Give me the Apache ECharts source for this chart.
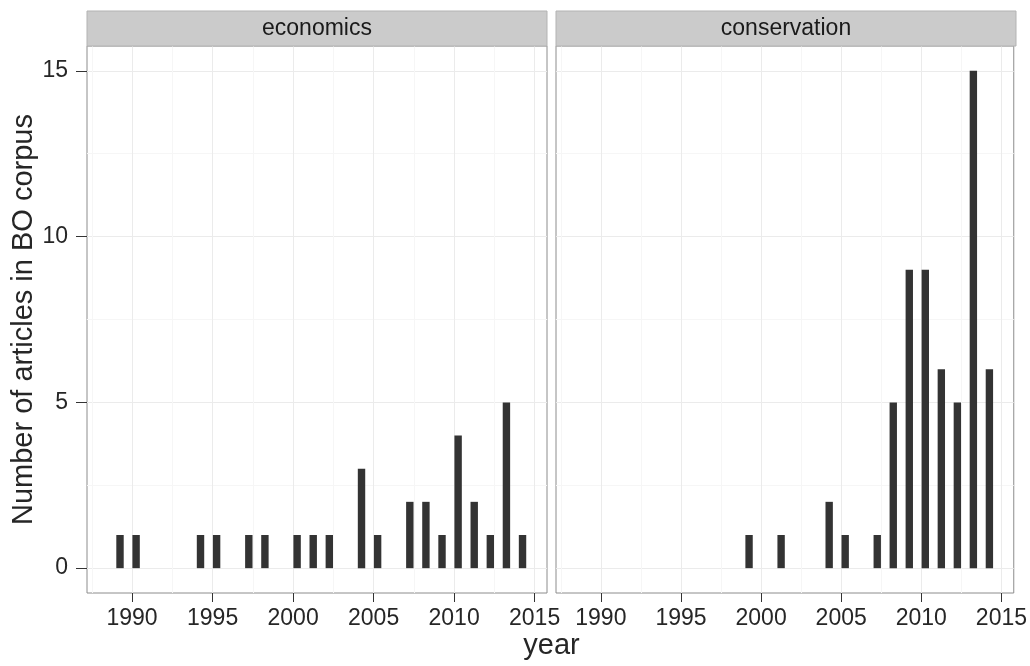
<!DOCTYPE html>
<html>
<head>
<meta charset="utf-8">
<script src="https://cdn.jsdelivr.net/npm/echarts@6/dist/echarts.min.js"></script>
<style>
  html, body { margin: 0; padding: 0; background: #ffffff; }
  #chart { width: 1030px; height: 666px; }
</style>
</head>
<body>
<div id="chart"></div>
<script>
// Articles per year in the BO corpus, faceted by topic
const panelNames = ['economics', 'conservation'];

const economicsYears  = [1989, 1990, 1994, 1995, 1997, 1998, 2000, 2001, 2002, 2004, 2005, 2007, 2008, 2009, 2010, 2011, 2012, 2013, 2014];
const economicsCounts = [1, 1, 1, 1, 1, 1, 1, 1, 1, 3, 1, 2, 2, 1, 4, 2, 1, 5, 1];

const conservationYears  = [1999, 2001, 2004, 2005, 2007, 2008, 2009, 2010, 2011, 2012, 2013, 2014];
const conservationCounts = [1, 1, 2, 1, 1, 5, 9, 9, 6, 5, 15, 6];

const yearTicks       = [1990, 1995, 2000, 2005, 2010, 2015];
const yearMinorTicks  = [1987.5, 1992.5, 1997.5, 2002.5, 2007.5, 2012.5];
const countTicks      = [0, 5, 10, 15];
const countMinorTicks = [2.5, 7.5, 12.5];

const xTitle = 'year';
const yTitle = 'Number of articles in BO corpus';

// ---- styling / layout ----
const FONT = "'Liberation Sans', Arial, Helvetica, sans-serif";
const YEAR_RANGE  = [1987.2, 2015.77];
const COUNT_RANGE = [-0.75, 15.75];
const BAR_CENTER = 0.25;   // bars sit a quarter year after the year start
const BAR_HALF   = 0.23;   // half bar width, in years
const BAR_COLOR  = '#333333';
const MAJOR_GRID = '#ebebeb';
const MINOR_GRID = '#f6f6f6';
const BORDER     = '#8c8c8c';
const TEXT       = '#262626';

const panels = [
  { left: 87,  top: 46, width: 460, height: 547 },
  { left: 556, top: 46, width: 460, height: 547 }
];
const STRIP_TOP = 11;

const series = [
  { years: economicsYears, counts: economicsCounts },
  { years: conservationYears, counts: conservationCounts }
];

const grids = [], xAxes = [], yAxes = [], seriesList = [], graphics = [];

panels.forEach((p, i) => {
  grids.push({
    left: p.left, top: p.top, width: p.width, height: p.height,
    show: true, borderColor: BORDER, borderWidth: 1, backgroundColor: '#ffffff',
    containLabel: false
  });

  // major x axis with labels and ticks
  xAxes.push({
    type: 'value', gridIndex: i, min: YEAR_RANGE[0], max: YEAR_RANGE[1], position: 'bottom',
    axisLine: { show: false, onZero: false },
    axisTick: { show: true, length: 9, customValues: yearTicks, lineStyle: { color: '#333333', width: 1 } },
    axisLabel: { show: true, customValues: yearTicks, margin: 14, color: TEXT, fontSize: 23, fontFamily: FONT,
                 formatter: v => String(v) },
    splitLine: { show: true, lineStyle: { color: MAJOR_GRID, width: 1 } }
  });
  // minor x grid lines
  xAxes.push({
    type: 'value', gridIndex: i, min: YEAR_RANGE[0], max: YEAR_RANGE[1], position: 'top',
    axisLine: { show: false, onZero: false },
    axisTick: { show: false, customValues: yearMinorTicks },
    axisLabel: { show: false, customValues: yearMinorTicks },
    splitLine: { show: true, lineStyle: { color: MINOR_GRID, width: 1 } }
  });

  yAxes.push({
    type: 'value', gridIndex: i, min: COUNT_RANGE[0], max: COUNT_RANGE[1], position: 'left',
    axisLine: { show: false, onZero: false },
    axisTick: { show: i === 0, length: 11, customValues: countTicks, lineStyle: { color: '#333333', width: 1 } },
    axisLabel: { show: i === 0, customValues: countTicks, margin: 19, color: TEXT, fontSize: 23, fontFamily: FONT },
    splitLine: { show: true, lineStyle: { color: MAJOR_GRID, width: 1 } },
    name: i === 0 ? yTitle : '',
    nameLocation: 'middle', nameRotate: 90, nameGap: 47,
    nameTextStyle: { color: TEXT, fontSize: 29, fontFamily: FONT }
  });
  yAxes.push({
    type: 'value', gridIndex: i, min: COUNT_RANGE[0], max: COUNT_RANGE[1], position: 'right',
    axisLine: { show: false, onZero: false },
    axisTick: { show: false, customValues: countMinorTicks },
    axisLabel: { show: false, customValues: countMinorTicks },
    splitLine: { show: true, lineStyle: { color: MINOR_GRID, width: 1 } }
  });

  const d = series[i];
  seriesList.push({
    type: 'custom',
    xAxisIndex: i * 2, yAxisIndex: i * 2,
    data: d.years.map((y, k) => [y, d.counts[k]]),
    encode: { x: 0, y: 1 },
    clip: true,
    renderItem: (params, api) => {
      const x = api.value(0), v = api.value(1);
      const a = api.coord([x + BAR_CENTER - BAR_HALF, v]);
      const b = api.coord([x + BAR_CENTER + BAR_HALF, 0]);
      return {
        type: 'rect',
        shape: { x: a[0], y: a[1], width: b[0] - a[0], height: b[1] - a[1] },
        style: { fill: BAR_COLOR }
      };
    },
    z: 5
  });

  // facet strip
  graphics.push({
    type: 'rect',
    shape: { x: p.left, y: STRIP_TOP, width: p.width, height: p.top - STRIP_TOP },
    style: { fill: '#cbcbcb', stroke: '#b3b3b3', lineWidth: 1 },
    z: 10
  });
  graphics.push({
    type: 'text',
    x: p.left + p.width / 2, y: (STRIP_TOP + p.top) / 2,
    style: { text: panelNames[i], fill: '#1a1a1a', font: '23px ' + FONT, align: 'center', verticalAlign: 'middle' },
    z: 11
  });
});

// shared x title across both panels
graphics.push({
  type: 'text',
  x: (panels[0].left + panels[1].left + panels[1].width) / 2, y: 646,
  style: { text: xTitle, fill: TEXT, font: '29px ' + FONT, align: 'center', verticalAlign: 'middle' },
  z: 11
});

const chart = echarts.init(document.getElementById('chart'), null, { renderer: 'canvas' });
chart.setOption({
  animation: false,
  backgroundColor: '#ffffff',
  grid: grids,
  xAxis: xAxes,
  yAxis: yAxes,
  series: seriesList,
  graphic: graphics
});
</script>
</body>
</html>
